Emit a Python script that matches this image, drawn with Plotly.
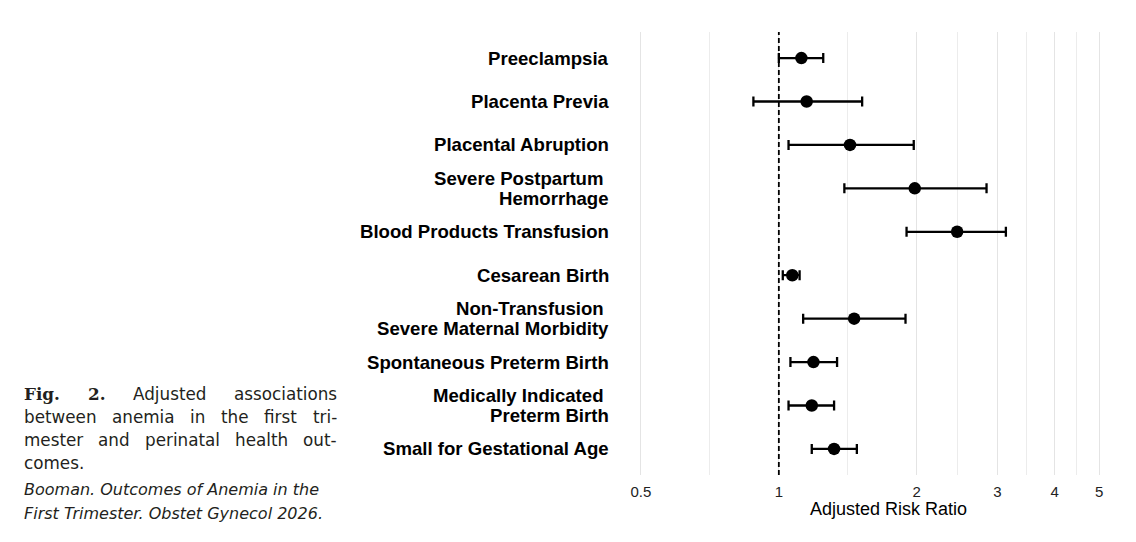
import math
import plotly.graph_objects as go

# ---- data ----
categories = [
    "Preeclampsia",
    "Placenta Previa",
    "Placental Abruption",
    "Severe Postpartum\u00a0\nHemorrhage",
    "Blood Products Transfusion",
    "Cesarean Birth",
    "Non-Transfusion\u00a0\nSevere Maternal Morbidity",
    "Spontaneous Preterm Birth",
    "Medically Indicated\u00a0\nPreterm Birth",
    "Small for Gestational Age",
]
risk_ratio = [1.12, 1.15, 1.43, 1.98, 2.45, 1.07, 1.46, 1.19, 1.18, 1.32]
ci_low = [1.00, 0.88, 1.05, 1.39, 1.90, 1.02, 1.13, 1.06, 1.05, 1.18]
ci_high = [1.25, 1.52, 1.97, 2.84, 3.13, 1.11, 1.89, 1.34, 1.32, 1.48]
x_ticks = [0.5, 1, 2, 3, 4, 5]
x_tick_labels = ["0.5", "1", "2", "3", "4", "5"]
x_title = "Adjusted Risk Ratio"
reference_value = 1

caption_lines = [
    ["Fig.", "2.", "Adjusted", "associations"],
    ["between", "anemia", "in", "the", "first", "tri-"],
    ["mester", "and", "perinatal", "health", "out-"],
    ["comes."],
]
caption_bold_words = ["Fig.", "2."]
source_lines = [
    "Booman. Outcomes of Anemia in the",
    "First Trimester. Obstet Gynecol 2026.",
]

# ---- layout geometry (pixels) ----
W, H = 1136, 542
PL, PR, PT, PB = 618, 1122, 32, 475


def px_x(px):
    return (px - PL) / (PR - PL)


def px_y(py):
    return (PB - py) / (PB - PT)


# approximate glyph advance widths (em) for justification of the caption
SANS_W = dict(a=.613, b=.635, c=.550, d=.635, e=.615, f=.352, g=.635, h=.634,
              i=.278, j=.278, l=.278, m=.974, n=.634, o=.612, p=.635, r=.411,
              s=.521, t=.392, u=.634, w=.818, A=.684)
SANS_W["."] = .318
SANS_W["-"] = .361
SERIF_B_W = {"F": .715, "i": .365, "g": .716, ".": .380, "2": .696}


def word_width(w, size, bold):
    table = SERIF_B_W if bold else SANS_W
    return sum(table.get(ch, .6) for ch in w) * size


ids = [c.replace("\n", " ") for c in categories]
err_plus = [h - r for h, r in zip(ci_high, risk_ratio)]
err_minus = [r - l for r, l in zip(risk_ratio, ci_low)]

fig = go.Figure()

fig.add_shape(
    type="line",
    x0=reference_value, x1=reference_value, xref="x",
    y0=0, y1=1, yref="paper",
    line=dict(color="black", width=1.8, dash="5px,3px"),
    layer="above",
)

fig.add_trace(
    go.Scatter(
        x=risk_ratio,
        y=ids,
        mode="markers",
        marker=dict(color="black", size=12.5, symbol="circle"),
        error_x=dict(
            type="data",
            symmetric=False,
            array=err_plus,
            arrayminus=err_minus,
            color="black",
            thickness=2.3,
            width=5,
        ),
        showlegend=False,
        hoverinfo="x+y",
    )
)

minor_vals = [math.sqrt(a * b) for a, b in zip(x_ticks[:-1], x_ticks[1:])]

fig.update_xaxes(
    type="log",
    range=[math.log10(0.5) - 0.05, math.log10(5) + 0.05],
    tickmode="array",
    tickvals=x_ticks,
    ticktext=x_tick_labels,
    showgrid=True,
    gridcolor="#e4e4e4",
    gridwidth=1.2,
    minor=dict(tickvals=minor_vals, showgrid=True, gridcolor="#ececec", gridwidth=1),
    zeroline=False,
    showline=False,
    ticks="",
    ticklabelstandoff=6,
    tickfont=dict(family="Liberation Sans, Arial, sans-serif", size=15, color="#222"),
)
fig.update_yaxes(
    type="category",
    categoryorder="array",
    categoryarray=ids,
    range=[len(ids) - 0.4, -0.6],
    showgrid=False,
    zeroline=False,
    showline=False,
    showticklabels=False,
    ticks="",
)

annotations = []
# y-axis labels
for cid, cat in zip(ids, categories):
    lines = cat.split("\n")
    n = len(lines)
    for i, line in enumerate(lines):
        annotations.append(
            dict(
                x=px_x(611), xref="paper", y=cid, yref="y",
                text="<b>" + line + "</b>", showarrow=False,
                xanchor="right", yanchor="middle",
                yshift=((n - 1) / 2 - i) * 20,
                font=dict(family="Liberation Sans, Arial, sans-serif", size=18.6, color="black"),
            )
        )

# axis title
annotations.append(
    dict(
        x=px_x(888), xref="paper", y=px_y(509), yref="paper",
        text=x_title, showarrow=False, xanchor="center", yanchor="middle",
        font=dict(family="Liberation Sans, Arial, sans-serif", size=18, color="black"),
    )
)

# caption, justified between left and right edges
CAP_L, CAP_R, CAP_SIZE = 22, 335, 16.8
line_y = [394, 417, 440, 463]
for k, (words, ly) in enumerate(zip(caption_lines, line_y)):
    bolds = [w in caption_bold_words for w in words]
    widths = [word_width(w, CAP_SIZE, b) for w, b in zip(words, bolds)]
    last_line = k == len(caption_lines) - 1
    if len(words) > 1 and not last_line:
        gap = (CAP_R - CAP_L - sum(widths)) / (len(words) - 1)
    else:
        gap = 0.318 * CAP_SIZE
    xpos = CAP_L
    for w, b, wd in zip(words, bolds, widths):
        fam = "DejaVu Serif, serif" if b else "DejaVu Sans, sans-serif"
        annotations.append(
            dict(
                x=px_x(xpos), xref="paper", y=px_y(ly), yref="paper",
                text=("<b>" + w + "</b>") if b else w, showarrow=False,
                xanchor="left", yanchor="middle",
                font=dict(family=fam, size=CAP_SIZE, color="#231f20"),
            )
        )
        xpos += wd + gap
for k, s in enumerate(source_lines):
    annotations.append(
        dict(
            x=px_x(22), xref="paper", y=px_y(489 + 24 * k), yref="paper",
            text="<i>" + s + "</i>", showarrow=False,
            xanchor="left", yanchor="middle",
            font=dict(family="DejaVu Sans, sans-serif", size=16, color="#231f20"),
        )
    )

fig.update_layout(
    width=W,
    height=H,
    margin=dict(l=PL, r=W - PR, t=PT, b=H - PB, pad=0),
    paper_bgcolor="white",
    plot_bgcolor="white",
    annotations=annotations,
    showlegend=False,
)

fig.write_html("out.html")
